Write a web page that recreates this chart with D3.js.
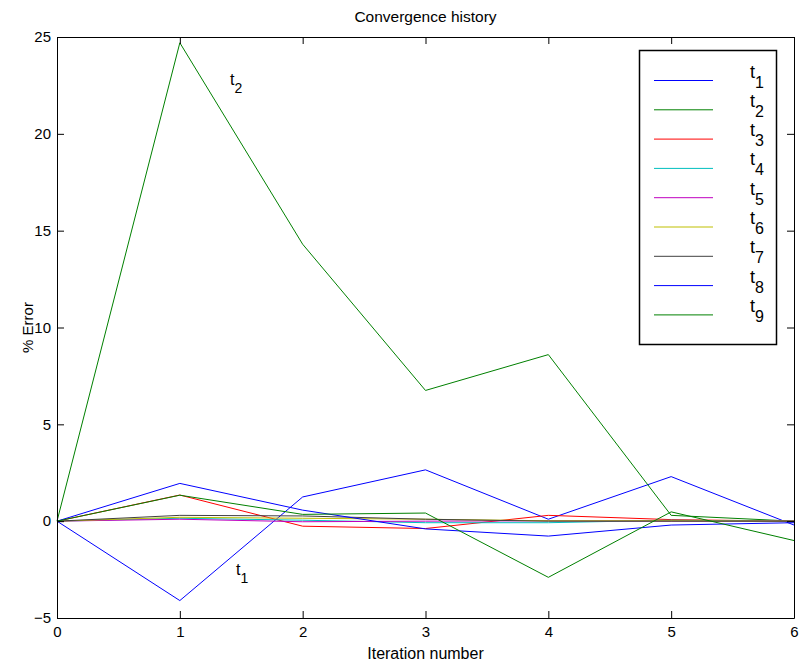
<!DOCTYPE html>
<html>
<head>
<meta charset="utf-8">
<script src="https://cdn.jsdelivr.net/npm/d3@7"></script>
<style>
  html, body { margin: 0; padding: 0; background: #fff; }
  svg { display: block; font-family: "Liberation Sans", Arial, Helvetica, sans-serif; }
</style>
</head>
<body>
<svg id="chart" width="800" height="664"></svg>
<script>
// Iteration index on the x axis
const iterations = [0, 1, 2, 3, 4, 5, 6];

// Percent error of each parameter per iteration
const t1 = [0, -4.1, 1.25, 2.65, 0.1, 2.3, -0.2];
const t2 = [0, 24.7, 14.3, 6.75, 8.6, 0.3, 0.0];
const t3 = [0, 1.35, -0.26, -0.38, 0.3, 0.08, 0.0];
const t4 = [0, 0.15, 0.05, -0.08, -0.08, 0.05, 0.0];
const t5 = [0, 0.1, -0.03, 0.0, 0.02, 0.0, 0.0];
const t6 = [0, 0.2, 0.15, 0.1, 0.02, 0.02, 0.0];
const t7 = [0, 0.3, 0.27, 0.1, 0.0, 0.0, 0.0];
const t8 = [0, 1.95, 0.57, -0.4, -0.77, -0.2, -0.08];
const t9 = [0, 1.34, 0.35, 0.42, -2.9, 0.48, -1.0];

const seriesNames = ["1", "2", "3", "4", "5", "6", "7", "8", "9"];
const seriesValues = [t1, t2, t3, t4, t5, t6, t7, t8, t9];
// Classic default line color order, cycling after seven entries
const colorOrder = ["#0000ff", "#008000", "#ff0000", "#00bfbf", "#bf00bf", "#bfbf00", "#404040"];

const xTicks = [0, 1, 2, 3, 4, 5, 6];
const yTicks = [-5, 0, 5, 10, 15, 20, 25];

const svg = d3.select("#chart");
const margin = { left: 57, right: 6, top: 37, bottom: 46 };
const W = 800, H = 664;
const x = d3.scaleLinear().domain([0, 6]).range([margin.left, W - margin.right]);
const y = d3.scaleLinear().domain([-5, 25]).range([H - margin.bottom, margin.top]);
const tickLen = 7;

// Data lines (drawn first, axes box on top)
const line = d3.line().x((d, i) => x(iterations[i])).y(d => y(d));
svg.append("g").selectAll("path")
  .data(seriesValues)
  .join("path")
  .attr("d", d => line(d))
  .attr("fill", "none")
  .attr("stroke", (d, i) => colorOrder[i % colorOrder.length])
  .attr("stroke-width", 1);

// Axes: inward ticks on all four sides
function styleAxis(g) {
  g.select(".domain").attr("stroke", "#000").attr("stroke-width", 1);
  g.selectAll(".tick line").attr("stroke", "#000");
  g.selectAll(".tick text").attr("fill", "#000").attr("font-size", 15);
}
const fmt = d3.format("");
svg.append("g")
  .attr("transform", `translate(0,${y(-5)})`)
  .call(d3.axisBottom(x).tickValues(xTicks).tickFormat(fmt).tickSizeInner(-tickLen).tickSizeOuter(0).tickPadding(8))
  .call(styleAxis);
svg.append("g")
  .attr("transform", `translate(0,${y(25)})`)
  .call(d3.axisTop(x).tickValues(xTicks).tickFormat("").tickSizeInner(-tickLen).tickSizeOuter(0))
  .call(styleAxis);
svg.append("g")
  .attr("transform", `translate(${x(0)},0)`)
  .call(d3.axisLeft(y).tickValues(yTicks).tickFormat(fmt).tickSizeInner(-tickLen).tickSizeOuter(0).tickPadding(6))
  .call(styleAxis);
svg.append("g")
  .attr("transform", `translate(${x(6)},0)`)
  .call(d3.axisRight(y).tickValues(yTicks).tickFormat("").tickSizeInner(-tickLen).tickSizeOuter(0))
  .call(styleAxis);

// Title and axis labels
svg.append("text").attr("x", (x(0) + x(6)) / 2).attr("y", 22)
  .attr("text-anchor", "middle").attr("font-size", 15.5).text("Convergence history");
svg.append("text").attr("x", (x(0) + x(6)) / 2).attr("y", 659)
  .attr("text-anchor", "middle").attr("font-size", 16).text("Iteration number");
svg.append("text").attr("transform", `translate(33,${(y(-5) + y(25)) / 2}) rotate(-90)`)
  .attr("text-anchor", "middle").attr("font-size", 15).text("% Error");

// Subscripted "t_n" label helper
function subLabel(g, px, py, sub, size, subSize, subDy) {
  const t = g.append("text").attr("x", px).attr("y", py).attr("font-size", size);
  t.append("tspan").text("t");
  t.append("tspan").attr("font-size", subSize).attr("dy", subDy).text(sub);
  return t;
}

// In-plot annotations next to the two largest excursions
subLabel(svg, 230, 85, "2", 16, 14, 8);
subLabel(svg, 236, 575, "1", 16, 14, 8);

// Legend
const legend = svg.append("g");
legend.append("rect").attr("x", 639.5).attr("y", 50.5).attr("width", 137).attr("height", 294)
  .attr("fill", "#fff").attr("stroke", "#000").attr("stroke-width", 1.5);
seriesNames.forEach((name, i) => {
  const ly = 80.5 + i * 29.3;
  legend.append("line").attr("x1", 654).attr("x2", 713).attr("y1", ly).attr("y2", ly)
    .attr("stroke", colorOrder[i % colorOrder.length]).attr("stroke-width", 1);
  subLabel(legend, 750, ly - 3, name, 18, 16, 10);
});
</script>
</body>
</html>
